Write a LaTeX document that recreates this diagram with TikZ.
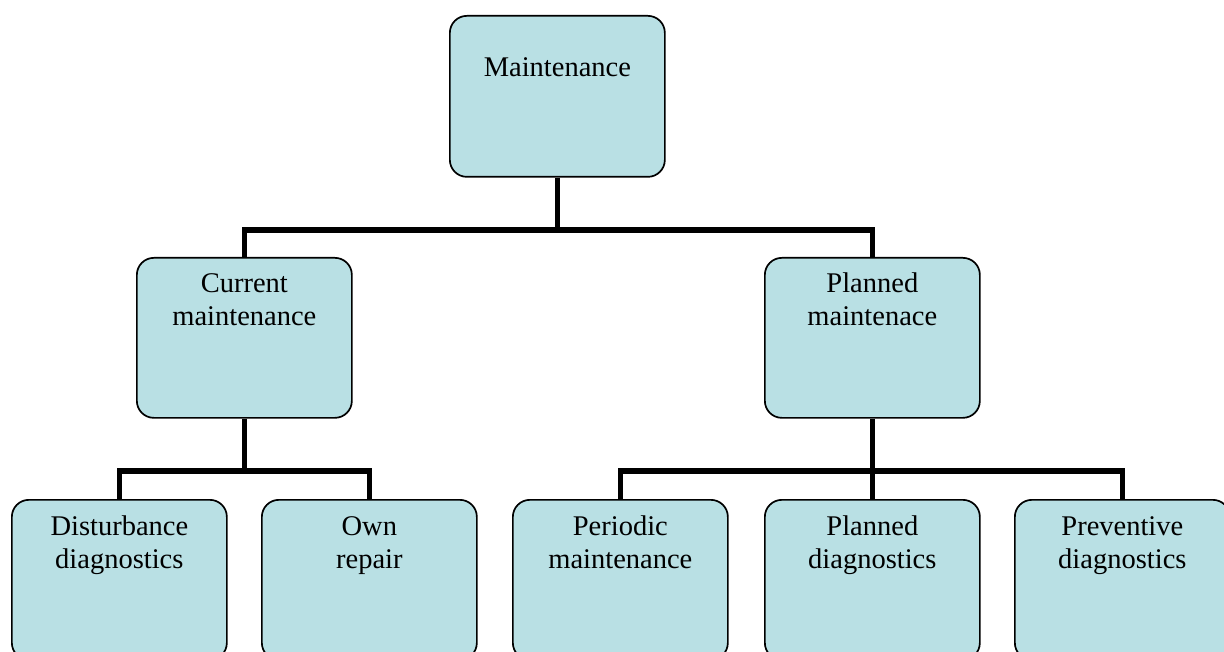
\documentclass[tikz,border=0pt]{standalone}
\usepackage{fontspec}
\setmainfont{Liberation Serif}
\definecolor{boxfill}{RGB}{185,224,228}
\begin{document}
\begin{tikzpicture}[x=1pt,y=-1pt,
  orgbox/.style={draw=black,line width=1.7pt,fill=boxfill,rounded corners=17pt,
    minimum width=215pt,inner sep=0pt,anchor=north west},
  lbl/.style={anchor=north,inner sep=0pt,align=center,
    font=\fontsize{28.5}{33}\selectfont},
  conn/.style={line width=5.5pt}]
\useasboundingbox (0,0) rectangle (1224,652);
% boxes
\node[orgbox,minimum height=161pt] (top) at (449,15) {};
\node[orgbox,minimum height=160pt] (cur) at (136,257) {};
\node[orgbox,minimum height=160pt] (plan) at (764,257) {};
\node[orgbox,minimum height=160pt] (dist) at (11,499) {};
\node[orgbox,minimum height=160pt] (own) at (261,499) {};
\node[orgbox,minimum height=160pt] (peri) at (512,499) {};
\node[orgbox,minimum height=160pt] (pdiag) at (764,499) {};
\node[orgbox,minimum height=160pt] (prev) at (1014,499) {};
% labels
\node[lbl] (ltop) at ([yshift=-42pt]top.north) {Maintenance};
\node[lbl] (lcur) at ([yshift=-16pt]cur.north) {Current\\maintenance};
\node[lbl] (lplan) at ([yshift=-16pt]plan.north) {Planned\\maintenace};
\node[lbl] (ldist) at ([yshift=-17pt]dist.north) {Disturbance\\diagnostics};
\node[lbl] (lown) at ([yshift=-17pt]own.north) {Own\\repair};
\node[lbl] (lperi) at ([yshift=-17pt]peri.north) {Periodic\\maintenance};
\node[lbl] (lpdiag) at ([yshift=-17pt]pdiag.north) {Planned\\diagnostics};
\node[lbl] (lprev) at ([yshift=-17pt]prev.north) {Preventive\\diagnostics};
% connectors
\coordinate (h1) at (0,230);
\coordinate (h2) at (0,471);
\draw[conn] (top.south) -- (top.south |- h1);
\draw[conn] (cur.north) |- (plan.north |- h1) -- (plan.north);
\draw[conn] (cur.south) -- (cur.south |- h2);
\draw[conn] (dist.north) |- (own.north |- h2) -- (own.north);
\draw[conn] (plan.south) -- (pdiag.north);
\draw[conn] (peri.north) |- (prev.north |- h2) -- (prev.north);
\end{tikzpicture}
\end{document}
